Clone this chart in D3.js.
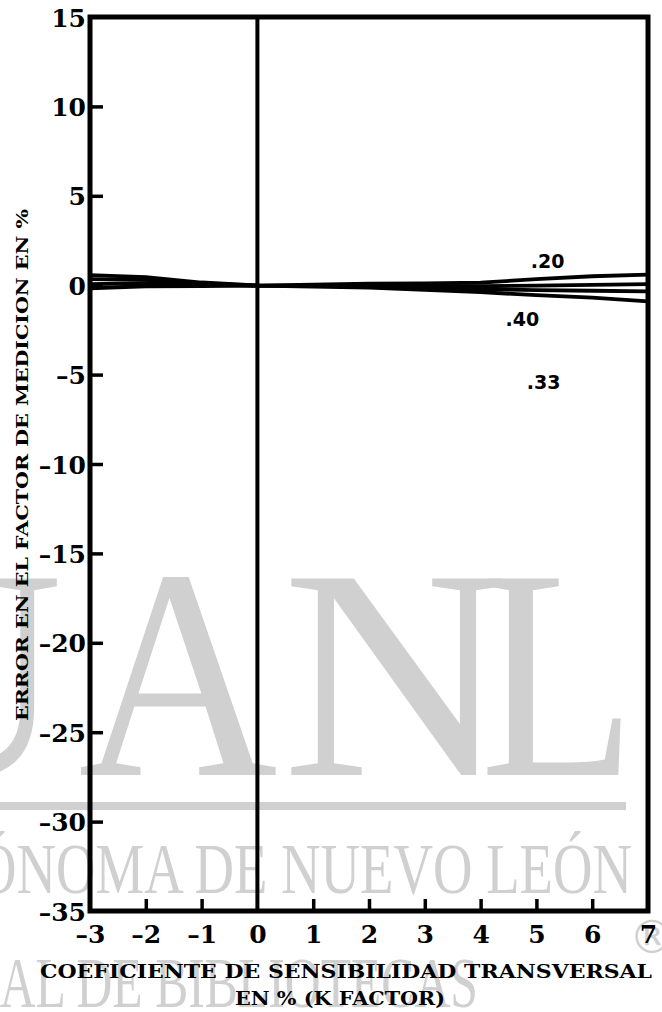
<!DOCTYPE html>
<html>
<head>
<meta charset="utf-8">
<script src="https://cdn.jsdelivr.net/npm/d3@7"></script>
<style>
  body { margin:0; background:#fff; }
  svg { display:block; }
  .tick text { font-family:"DejaVu Serif", serif; font-weight:bold; }
</style>
</head>
<body>
<svg id="chart" width="662" height="1012"></svg>
<script>
var width = 662
var height = 1012
var margin = {top:17, left:90, bottom:101, right:14}

// data
var kFactor = [-3, -2, -1, 0, 1, 2, 3, 4, 5, 6, 7]
var err1 = [-0.17, -0.06, -0.05, -0.02, 0.03, 0.08, 0.10, 0.14, 0.34, 0.50, 0.59]
var err2 = [0.06, 0.12, 0.02, -0.02, -0.02, -0.02, -0.04, -0.06, -0.02, 0.02, 0.06]
var err3 = [0.34, 0.30, 0.08, -0.02, -0.04, -0.06, -0.14, -0.22, -0.28, -0.31, -0.34]
var err4 = [0.56, 0.45, 0.15, -0.02, -0.08, -0.14, -0.26, -0.39, -0.56, -0.70, -0.90]
var series = [err1, err2, err3, err4]

var curveLabels = [".20", ".40", ".33"]
var curveLabelX = [5.2, 4.75, 5.13]
var curveLabelY = [0.95, -2.3, -5.8]

var xTicks = [-3, -2, -1, 0, 1, 2, 3, 4, 5, 6, 7]
var yTicks = [15, 10, 5, 0, -5, -10, -15, -20, -25, -30, -35]
var yTitle = "ERROR EN EL FACTOR DE MEDICION EN %"
var xTitle1 = "COEFICIENTE DE SENSIBILIDAD TRANSVERSAL"
var xTitle2 = "EN % (K FACTOR)"

var svg = d3.select("#chart")
var grey = "#d0d0d0"

// library watermark behind everything
var wm = svg.append("g").attr("fill", grey).style("font-family", "'Liberation Serif', serif")
var wmL = ["U", "A", "N", "L"]
var wmX = [-35, 178, 396, 558]
var wmS = [0.9, 0.92, 1.05, 0.85]
wm.selectAll(".wmbig").data(wmL).enter().append("text")
  .attr("class", "wmbig")
  .attr("transform", function(d, i){ return "translate(" + wmX[i] + ",775) scale(" + wmS[i] + ",1)" })
  .attr("text-anchor", "middle")
  .style("font-size", "300px")
  .text(function(d){ return d })
wm.append("rect").attr("x", 0).attr("y", 802).attr("width", 626).attr("height", 8)
wm.append("text")
  .attr("transform", "translate(632,893) scale(0.76,1)")
  .attr("text-anchor", "end")
  .style("font-size", "72px")
  .text("UNIVERSIDAD AUTÓNOMA DE NUEVO LEÓN")
wm.append("text")
  .attr("transform", "translate(478,1007) scale(0.69,1)")
  .attr("text-anchor", "end")
  .style("font-size", "72px")
  .text("DIRECCIÓN GENERAL DE BIBLIOTECAS")
wm.append("text")
  .attr("x", 652).attr("y", 953)
  .attr("text-anchor", "middle")
  .style("font-size", "46px")
  .style("font-family", "'DejaVu Sans', sans-serif")
  .text("®")

var g = svg.append("g")
  .attr("transform", "translate(" + margin.left + "," + margin.top + ")")
var w = width - margin.left - margin.right
var h = height - margin.top - margin.bottom

var xScale = d3.scaleLinear().domain([-3, 7]).range([0, w])
var yScale = d3.scaleLinear().domain([-35, 15]).range([h, 0])

var fmt = function(d){ return d < 0 ? "\u2013" + Math.abs(d) : d }

var xAxisCall = d3.axisBottom(xScale).tickValues(xTicks).tickFormat(fmt)
  .tickSizeInner(-12).tickSizeOuter(0).tickPadding(14)
var yAxisCall = d3.axisLeft(yScale).tickValues(yTicks).tickFormat(fmt)
  .tickSizeInner(-13).tickSizeOuter(0).tickPadding(4)

var xAx = g.append("g")
  .attr("class", "x axis")
  .attr("transform", "translate(0," + h + ")")
  .call(xAxisCall)
var yAx = g.append("g")
  .attr("class", "y axis")
  .call(yAxisCall)

svg.selectAll(".axis .domain").remove()
svg.selectAll(".axis .tick line").attr("stroke", "#000").attr("stroke-width", 3.5)
svg.selectAll(".axis .tick text").attr("fill", "#000").style("font-size", "25px")
// no tick marks at the corners / zero line
xAx.selectAll(".tick line").filter(function(d){ return d == -3 || d == 0 || d == 7 }).remove()
yAx.selectAll(".tick line").filter(function(d){ return d == 15 || d == -35 }).remove()
yAx.selectAll(".tick text").attr("dy", "0.36em")

// frame and zero line
g.append("rect")
  .attr("x", 0).attr("y", 0).attr("width", w).attr("height", h)
  .attr("fill", "none").attr("stroke", "#000").attr("stroke-width", 5)
g.append("line")
  .attr("x1", xScale(0)).attr("x2", xScale(0))
  .attr("y1", 0).attr("y2", h)
  .attr("stroke", "#000").attr("stroke-width", 4)

var line = d3.line()
  .x(function(d, i){ return xScale(kFactor[i]) })
  .y(function(d){ return yScale(d) })

g.selectAll(".curve").data(series).enter().append("path")
  .attr("class", "curve")
  .attr("fill", "none")
  .attr("stroke", "#000")
  .attr("stroke-width", 3.8)
  .attr("stroke-linejoin", "round")
  .attr("d", line)

g.selectAll(".clab").data(curveLabels).enter().append("text")
  .attr("class", "clab")
  .attr("x", function(d, i){ return xScale(curveLabelX[i]) })
  .attr("y", function(d, i){ return yScale(curveLabelY[i]) })
  .attr("text-anchor", "middle")
  .style("font-family", "'DejaVu Sans', sans-serif")
  .style("font-weight", "bold")
  .style("font-size", "19px")
  .text(function(d){ return d })

// axis titles
svg.append("text")
  .attr("transform", "translate(28,465)rotate(-90)")
  .attr("text-anchor", "middle")
  .attr("textLength", 512)
  .attr("lengthAdjust", "spacingAndGlyphs")
  .style("font-family", "'DejaVu Serif', serif")
  .style("font-weight", "bold")
  .style("font-size", "17px")
  .text(yTitle)
svg.append("text")
  .attr("x", 346).attr("y", 978)
  .attr("text-anchor", "middle")
  .attr("textLength", 612)
  .attr("lengthAdjust", "spacingAndGlyphs")
  .style("font-family", "'DejaVu Serif', serif")
  .style("font-weight", "bold")
  .style("font-size", "18px")
  .text(xTitle1)
svg.append("text")
  .attr("x", 340).attr("y", 1005)
  .attr("text-anchor", "middle")
  .attr("textLength", 210)
  .attr("lengthAdjust", "spacingAndGlyphs")
  .style("font-family", "'DejaVu Serif', serif")
  .style("font-weight", "bold")
  .style("font-size", "18px")
  .text(xTitle2)
</script>
</body>
</html>
